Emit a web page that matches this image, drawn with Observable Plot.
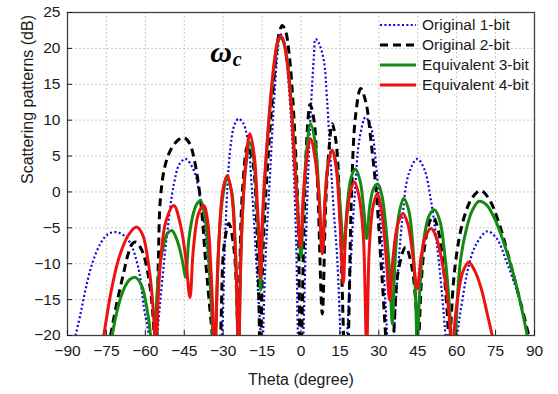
<!DOCTYPE html>
<html><head><meta charset="utf-8">
<script src="https://cdn.jsdelivr.net/npm/d3@7"></script>
<script src="https://cdn.jsdelivr.net/npm/@observablehq/plot@0.6"></script>
<style>
body{margin:0;background:#fff;font-family:"Liberation Sans",Arial,sans-serif;}
#wrap{position:relative;width:558px;height:394px;}
#legend{position:absolute;left:379px;top:15px;font-size:15.5px;color:#1a1a1a;}
.row{display:flex;align-items:center;height:20px;}
.row svg{margin-right:5px;}
</style></head><body><div id="wrap"><div id="legend"></div></div>
<script>
const xTicks = [-90,-75,-60,-45,-30,-15,0,15,30,45,60,75,90];
const yTicks = [-20,-15,-10,-5,0,5,10,15,20,25];
const seriesNames = ["Original 1-bit","Original 2-bit","Equivalent 3-bit","Equivalent 4-bit"];
const xLabel = "Theta (degree)";
const yLabel = "Scattering patterns (dB)";
const annotation = [{t:-30.8, v:18.1, s:"ω"}];
const annotationSub = [{t:-24.6, v:17.6, s:"c"}];

// [theta (deg), dB]
const orig1bit = [
 [-86.9,-20],[-85,-17],[-83.1,-13.7],[-80.5,-10],[-77.3,-7.2],[-74.5,-5.9],[-71.5,-5.6],[-68.5,-6],[-65.7,-7.2],[-62.5,-10.9],[-60.6,-16],[-58.7,-20],[-57,-30],
 [-55.4,-20],[-54.1,-14.7],[-51.6,-5.8],[-49,1.1],[-46.8,3.9],[-44.5,4.6],[-41.3,3],[-38.7,-1.2],[-36.1,-8.1],[-34.8,-15.1],[-34,-20],[-32.2,-30],
 [-30.4,-20],[-29.1,-4.9],[-27.2,6.2],[-25.5,9.5],[-24,10.2],[-22.3,9.6],[-20.7,7.6],[-18.8,-0.2],[-16.9,-11.9],[-15.6,-20],[-15.1,-30],
 [-14.6,-20],[-13.5,-8],[-12,2],[-10.5,12],[-9,19.5],[-8,22],[-6.8,21.3],[-5.5,18],[-4,11],[-2.8,3],[-1.8,-8],[-1.2,-20],[-0.2,-30],
 [0.9,-20],[1.8,-8],[2.8,3],[4,13],[5,19],[5.6,21.3],[6.8,20.8],[8.8,18.3],[10,13],[11.4,4.4],[12.7,-3],[14,-9.5],[15.2,-20],[16.5,-30],
 [17.8,-20],[19,-11],[20.6,-1],[22.6,7.5],[24.9,10.4],[27,9],[29,3.5],[30.8,-5],[32.2,-13],[33.2,-20],[34.5,-30],
 [35.8,-20],[37,-13],[39,-4],[41.5,2.5],[44.8,4.6],[47.5,3.2],[50,-1],[52.3,-7],[54.3,-14],[55.7,-20],[58,-30],
 [60.2,-20],[62,-15.5],[64.5,-10.5],[67.5,-7.3],[71.8,-5.5],[75.5,-6.5],[79,-9.5],[82.5,-13],[85,-16],[87.2,-20]
];
const orig2bit = [
 [-73.4,-20],[-71,-15.5],[-68.5,-11.5],[-66.5,-8.5],[-65,-7.2],[-63.5,-7],[-61.5,-8],[-60,-9.6],[-58,-13.7],[-56.6,-20],[-56,-30],
 [-55.6,-20],[-55,-10],[-54.2,-1],[-52.5,3.5],[-50.3,5.8],[-47.5,7.2],[-45.2,7.6],[-43,6.8],[-41.3,4.8],[-38.7,-1.2],[-36.8,-9.5],[-35.2,-16],[-34.2,-20],[-32.6,-30],
 [-31,-20],[-29.7,-7.7],[-27.8,-4.4],[-25.9,-7.7],[-24.4,-20],[-24.2,-30],
 [-23.9,-20],[-22.6,0],[-20.5,6.5],[-18.5,4],[-17,-5],[-16,-20],[-15.7,-30],
 [-15.4,-20],[-14.5,-7],[-13,3],[-11.5,11],[-10,17.5],[-8.5,22],[-7.2,23.2],[-6,22.5],[-4.5,19],[-3,12],[-2,5],[-1,-5],[-0.5,-20],[-0.1,-30],
 [0.3,-20],[1.5,0],[2.5,9],[3.5,12.2],[5,10],[6.5,0],[8.2,-17],[9.5,-2],[10.8,6],[12,9.5],[13.5,7],[15,-3],[16.4,-20],[17.4,-30],
 [18.3,-20],[19.5,0],[21,10.5],[23,14.4],[25,12.5],[27,7],[29,0],[30.7,-9],[32.6,-20],[34,-30],
 [35.7,-20],[37.5,-11],[40.3,-7.7],[42.5,-10],[44.5,-17],[45.2,-30],
 [45.8,-17],[47.5,-8],[50,-3.8],[51,-3.5],[53,-5.5],[55.3,-12],[56.8,-20],[57.2,-30],
 [57.6,-20],[59.5,-10],[62.5,-4],[66,-0.8],[69.2,0.2],[72.5,-1],[76,-4],[80,-9],[84,-14.5],[87.8,-20]
];
const equiv3bit = [
 [-72.8,-20],[-70.5,-16],[-68,-13.3],[-66,-12.2],[-63.8,-11.9],[-61.5,-13],[-59.5,-16],[-58,-20],[-57.2,-30],
 [-56.3,-20],[-55,-12],[-53,-7.5],[-51.5,-5.8],[-49.7,-5.4],[-47.5,-7],[-45.5,-10],[-44.5,-11.9],[-43.2,-6.5],[-41.5,-3],[-40,-1.6],[-38.7,-1.2],[-37,-3.5],[-35.6,-9],[-34.5,-16],[-34,-20],[-33.4,-30],
 [-32.9,-20],[-31.8,-8],[-30.3,-1],[-28.4,1.9],[-26.7,0],[-25.2,-9],[-24.4,-20],[-24.1,-30],
 [-23.8,-20],[-22.8,-5],[-21.3,3.5],[-19.7,6.9],[-18.2,4.5],[-17,-2],[-16.1,-8.5],[-15.6,-13.7],[-15,-7],[-14.2,0],[-13,7],
 [-11.5,13.5],[-10,18.5],[-8.8,21],[-7.8,21.5],[-6.5,20.6],[-5,17.5],[-3.5,11],[-2.2,3.5],[-1,-4],[0,-9.1],
 [0.9,-2],[2.1,5.5],[3.7,9.5],[5.4,7],[6.9,0],[8.2,-8.6],[9.3,-1],[10.5,4],[12,5.8],[13.5,4],[15,-1.5],[16.5,-8],
 [17.8,-2],[19.3,2],[21,3.2],[22.8,1.5],[24.2,-2.5],[25.3,-6.5],[26.5,-2],[28,0.5],[29.6,1.1],[31.2,-0.5],[33,-6],[34.3,-12],[35.2,-18.4],
 [36.2,-10],[37.8,-3],[39.6,-0.9],[41.5,-2.5],[43,-7],[44.2,-15],[44.8,-22],[45.6,-15],[47.2,-7],[49.5,-3.2],[51.5,-2.5],[53.5,-4],[55.5,-9],[57.2,-16],[58,-22],[58.8,-30],
 [59.6,-20],[61.5,-9.5],[64,-4.8],[66,-2.6],[68.6,-1.3],[71.5,-1.8],[75,-4],[79,-8],[83,-13],[87.2,-20]
];
const equiv4bit = [
 [-76,-20],[-73,-13.5],[-70,-9],[-66.5,-6],[-63.4,-4.9],[-61,-6],[-59,-9.5],[-57.5,-14],[-56.4,-20],[-56,-30],
 [-55.6,-20],[-54,-9],[-52,-4],[-49,-1.9],[-46.5,-4.5],[-44.5,-9],[-42.8,-14.7],[-41.5,-8],[-39.5,-3],[-37.5,-1.9],[-36,-4],[-34.7,-11],[-33.7,-20],[-33.2,-30],
 [-32.8,-20],[-31.5,-6],[-30,0.5],[-28.4,2.3],[-26.8,0],[-25.3,-8],[-24.4,-20],[-24.1,-30],
 [-23.8,-20],[-22.8,-5],[-21.3,4],[-19.7,8.1],[-18,5],[-16.8,-2],[-16,-7.5],[-15.6,-12],[-14.9,-4],[-14,2],[-13,7],
 [-11.5,14],[-10,19],[-9,21],[-8,21.7],[-7,21.3],[-5.5,18.5],[-4,13],[-2.8,6],[-1.5,-1.5],[-0.2,-7.7],
 [0.8,-1],[2,4],[3.7,7.4],[5.5,4.5],[7,-1],[8.2,-8.6],[9.3,-1],[10.5,4],[12,5.8],[13.5,3.5],[15,-4],[16.3,-12.7],
 [17.3,-5],[19,0],[20.6,1.4],[22.3,-0.5],[24,-6],[25.3,-22],[26.3,-8],[27.8,-2],[29.4,-0.3],[31,-2.5],[32.8,-9],[34.2,-15.1],
 [35.5,-9],[37.3,-4.5],[39.3,-3],[41.2,-4.5],[43,-8.5],[44.8,-13.5],[46.3,-9],[48.2,-6],[50.2,-5.1],[52.3,-6.5],[54.5,-10],[56.5,-15],[57.6,-20],[58.2,-30],
 [58.9,-20],[60.5,-14.5],[62.5,-11],[64.7,-9.8],[67,-11],[69.5,-13.5],[71.8,-17],[73.7,-20]
];

const styles = [
  {stroke:"#0808d8", strokeWidth:2.2, strokeDasharray:"2,2.4", strokeLinecap:"butt"},
  {stroke:"#000000", strokeWidth:3, strokeDasharray:"8,5", strokeLinecap:"butt"},
  {stroke:"#138a13", strokeWidth:3, strokeDasharray:null, strokeLinecap:"round"},
  {stroke:"#ee1111", strokeWidth:3, strokeDasharray:null, strokeLinecap:"round"}
];
const seriesData = [orig1bit, orig2bit, equiv3bit, equiv4bit];

const lineMarks = seriesData.map((pts, i) => Plot.line(pts, {
  x: d => d[0], y: d => d[1], curve: "catmull-rom", clip: true,
  stroke: styles[i].stroke, strokeWidth: styles[i].strokeWidth,
  strokeDasharray: styles[i].strokeDasharray, strokeLinecap: styles[i].strokeLinecap, strokeLinejoin:"round"
}));

const serif = "'Liberation Serif', 'DejaVu Serif', serif";
const chart = Plot.plot({
  width: 558, height: 394,
  marginLeft: 67, marginRight: 24, marginTop: 12, marginBottom: 59,
  style: {fontFamily: "'Liberation Sans', Arial, sans-serif", fontSize: "15.5px", color:"#1a1a1a", background:"#fff"},
  x: {domain: [-90, 90]},
  y: {domain: [-20, 25]},
  marks: [
    Plot.gridX(xTicks, {stroke:"#c8c8c8", strokeOpacity:1, strokeDasharray:"2,2"}),
    Plot.gridY(yTicks, {stroke:"#c8c8c8", strokeOpacity:1, strokeDasharray:"2,2"}),
    ...lineMarks,
    Plot.frame({stroke:"#404040", strokeWidth:1.3}),
    Plot.axisX(xTicks, {tickSize:-5, tickPadding:14, fontSize:15.5, label: null}),
    Plot.axisY(yTicks, {tickSize:-5, tickPadding:12, fontSize:15.5, label: null}),
    Plot.text([xLabel], {frameAnchor:"bottom", dy:44, lineAnchor:"middle", fontSize:16, fill:"#1a1a1a"}),
    Plot.text([yLabel], {frameAnchor:"left", rotate:-90, dx:-40, dy:10, lineAnchor:"middle", fontSize:16, fill:"#1a1a1a"}),
    Plot.text(annotation, {x:"t", y:"v", text:"s", lineAnchor:"bottom", fontFamily:serif, fontWeight:"bold", fontStyle:"italic", fontSize:30, fill:"#000"}),
    Plot.text(annotationSub, {x:"t", y:"v", text:"s", lineAnchor:"bottom", fontFamily:serif, fontWeight:"bold", fontStyle:"italic", fontSize:20, fill:"#000"})
  ]
});
document.getElementById("wrap").prepend(chart);

const legend = document.getElementById("legend");
seriesNames.forEach((name, i) => {
  const row = document.createElement("div");
  row.className = "row";
  const s = styles[i];
  row.innerHTML = `<svg width="38" height="8"><line x1="1" x2="37" y1="4" y2="4" stroke="${s.stroke}" stroke-width="${s.strokeWidth}" ${s.strokeDasharray ? `stroke-dasharray="${s.strokeDasharray}"` : ""}/></svg><span>${name}</span>`;
  legend.appendChild(row);
});
</script>
</body></html>
